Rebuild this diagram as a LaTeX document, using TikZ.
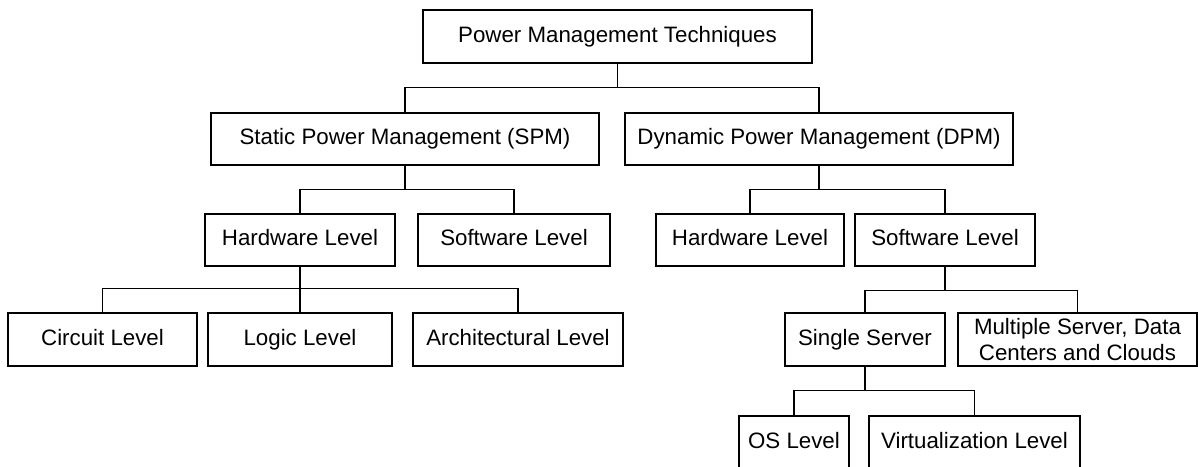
\documentclass[tikz,border=0pt]{standalone}
\usepackage{fontspec}
\setmainfont{Liberation Sans}
\usepackage{tikz}
\usetikzlibrary{positioning}

\begin{document}
\begin{tikzpicture}[
    x=1pt, y=-1pt,
    box/.style={draw, line width=1.1pt, align=center, minimum height=53pt, inner sep=0pt, text height=16pt, text depth=4.5pt, font=\fontsize{22.3}{26}\selectfont},
    link/.style={line width=1.1pt}
]
\useasboundingbox (0,0) rectangle (1198,466);
% top
\node[box, minimum width=389pt] (root) at (617.5,36.5) {Power Management Techniques};
% static / dynamic
\node[box, minimum width=388pt, minimum height=52pt] (spm) at (405,139) {Static Power Management (SPM)};
\node[box, minimum width=388pt, minimum height=52pt] (dpm) at (819,139) {Dynamic Power Management (DPM)};
% levels
\node[box, minimum width=190pt, minimum height=52pt] (shw) at (300,240) {Hardware Level};
\node[box, minimum width=192pt, minimum height=52pt] (ssw) at (514,240) {Software Level};
\node[box, minimum width=188pt, minimum height=52pt] (dhw) at (750,240) {Hardware Level};
\node[box, minimum width=180pt, minimum height=52pt] (dsw) at (945,240) {Software Level};
% hardware sub levels
\node[box, minimum width=189pt] (circ) at (102.5,339.5) {Circuit Level};
\node[box, minimum width=184pt] (logic) at (300,339.5) {Logic Level};
\node[box, minimum width=210pt] (arch) at (518,339.5) {Architectural Level};
% software sub levels
\node[box, minimum width=160pt] (single) at (865,339.5) {Single Server};
\node[box, minimum width=239pt, text height=, text depth=] (multi) at (1077.5,339.5) {Multiple Server, Data\\Centers and Clouds};
\node[box, minimum width=110pt] (os) at (794,442.5) {OS Level};
\node[box, minimum width=211pt] (virt) at (974.5,442.5) {Virtualization Level};

\draw[link] (root.south) -- ++(0,24) -| (spm.north);
\draw[link] (root.south) -- ++(0,24) -| (dpm.north);
\draw[link] (spm.south) -- ++(0,24) -| (shw.north);
\draw[link] (spm.south) -- ++(0,24) -| (ssw.north);
\draw[link] (dpm.south) -- ++(0,24) -| (dhw.north);
\draw[link] (dpm.south) -- ++(0,24) -| (dsw.north);
\draw[link] (shw.south) -- ++(0,22) -| (circ.north);
\draw[link] (shw.south) -- (logic.north);
\draw[link] (shw.south) -- ++(0,22) -| (arch.north);
\draw[link] (dsw.south) -- ++(0,24) -| (single.north);
\draw[link] (dsw.south) -- ++(0,24) -| (multi.north);
\draw[link] (single.south) -- ++(0,24) -| (os.north);
\draw[link] (single.south) -- ++(0,24) -| (virt.north);
\end{tikzpicture}
\end{document}
